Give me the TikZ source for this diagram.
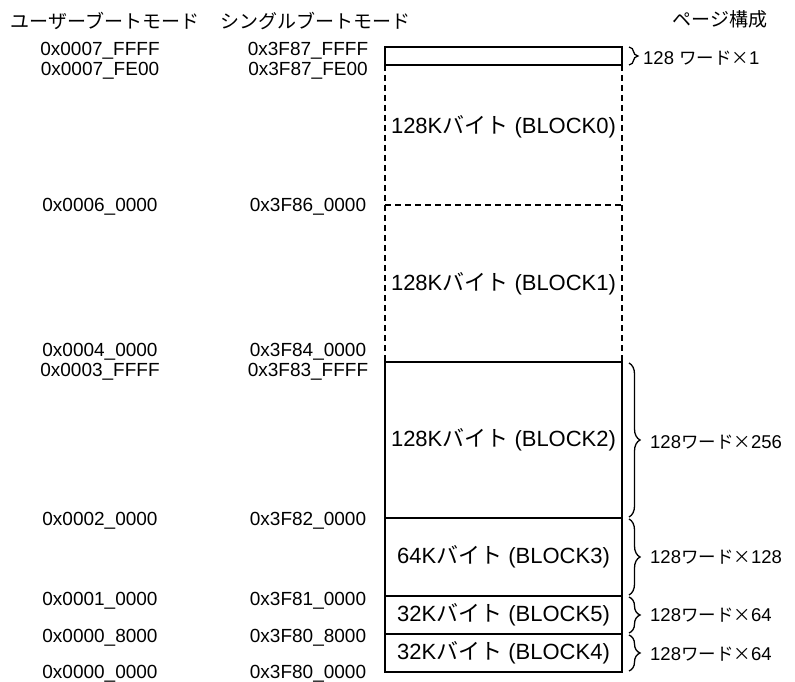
\documentclass[tikz,border=0pt]{standalone}
\usepackage{fontspec}
\setmainfont{Liberation Sans}
\newfontfamily\jp{Noto Sans CJK JP}
\usetikzlibrary{positioning, decorations.pathreplacing}
\newcommand\addrfont{\fontsize{19}{22}\selectfont}
\newcommand\blkfont{\fontsize{22}{25}\selectfont}
\newcommand\wordfont{\fontsize{18.5}{21}\selectfont}
\newcommand\wordjp[1]{{\jp\fontsize{17.5}{19}\selectfont #1}}
\tikzset{
  memblk/.style = {rectangle, draw, line width=1.5pt, minimum width=237pt,
                   inner sep=0pt, outer sep=0pt, font=\blkfont},
  memgap/.style = {rectangle, minimum width=237pt, inner sep=0pt,
                   outer sep=0pt, font=\blkfont},
  memdash/.style = {line width=1.5pt, dash pattern=on 6pt off 4pt},
  blklabel/.style = {font=\blkfont, inner sep=0pt},
  headlabel/.style = {font=\jp\addrfont, inner sep=0pt},
  addrlabel/.style = {font=\addrfont, inner sep=0pt, text height=13.6pt, text depth=0pt},
  pagebrace/.style = {decorate, decoration={brace, amplitude=11pt}, line width=1.3pt},
  pagelabel/.style = {font=\wordfont, anchor=west, inner sep=0pt, text height=13.3pt, text depth=0pt}
}

\begin{document}
\begin{tikzpicture}[x=1pt, y=-1pt]
\useasboundingbox (0,0) rectangle (795,682);
% column headings
\node[headlabel] (hub) at (105,21) {ユーザーブートモード};
\node[headlabel] (hsb) at (315,21) {シングルブートモード};
\node[headlabel] (hpg) at (720,19) {ページ構成};

% memory blocks
\node[memblk, minimum height=18pt] (tp) at (503.5,56) {};
\node[memgap, minimum height=140pt, below=0pt of tp] (b0) {};
\node[blklabel] (l0) at ([yshift=8pt]b0.center) {128K{\jp バイト} (BLOCK0)};
\node[memgap, minimum height=157pt, below=0pt of b0] (b1) {128K{\jp バイト} (BLOCK1)};
\node[memblk, minimum height=156pt, below=0pt of b1] (b2) {128K{\jp バイト} (BLOCK2)};
\node[memblk, minimum height=78pt, below=0pt of b2] (b3) {64K{\jp バイト} (BLOCK3)};
\node[memblk, minimum height=38pt, below=0pt of b3] (b5) {32K{\jp バイト} (BLOCK5)};
\node[memblk, minimum height=38pt, below=0pt of b5] (b4) {32K{\jp バイト} (BLOCK4)};
\draw[memdash] (b0.north west) -- (b1.south west);
\draw[memdash] (b0.north east) -- (b1.south east);
\draw[memdash] (b1.north west) -- (b1.north east);

% user boot addresses
\node[addrlabel] (u1) at (100,49) {0x0007\_FFFF};
\node[addrlabel] (u2) at (100,69) {0x0007\_FE00};
\node[addrlabel] (u3) at (100,205) {0x0006\_0000};
\node[addrlabel] (u4) at (100,350) {0x0004\_0000};
\node[addrlabel] (u5) at (100,370) {0x0003\_FFFF};
\node[addrlabel] (u6) at (100,519) {0x0002\_0000};
\node[addrlabel] (u7) at (100,599) {0x0001\_0000};
\node[addrlabel] (u8) at (100,636) {0x0000\_8000};
\node[addrlabel] (u9) at (100,672) {0x0000\_0000};
% single boot addresses
\node[addrlabel] (s1) at (308,49) {0x3F87\_FFFF};
\node[addrlabel] (s2) at (308,69) {0x3F87\_FE00};
\node[addrlabel] (s3) at (308,205) {0x3F86\_0000};
\node[addrlabel] (s4) at (308,350) {0x3F84\_0000};
\node[addrlabel] (s5) at (308,370) {0x3F83\_FFFF};
\node[addrlabel] (s6) at (308,519) {0x3F82\_0000};
\node[addrlabel] (s7) at (308,599) {0x3F81\_0000};
\node[addrlabel] (s8) at (308,636) {0x3F80\_8000};
\node[addrlabel] (s9) at (308,672) {0x3F80\_0000};

% page braces
\draw[pagebrace, decoration={amplitude=9pt}] ([xshift=7pt]tp.north east) -- ([xshift=7pt]tp.south east);
\draw[pagebrace] ([xshift=7pt,yshift=-1pt]b2.north east) -- ([xshift=7pt,yshift=1pt]b2.south east);
\draw[pagebrace] ([xshift=7pt,yshift=-1pt]b3.north east) -- ([xshift=7pt,yshift=1pt]b3.south east);
\draw[pagebrace] ([xshift=7pt,yshift=-1pt]b5.north east) -- ([xshift=7pt,yshift=1pt]b5.south east);
\draw[pagebrace] ([xshift=7pt,yshift=-1pt]b4.north east) -- ([xshift=7pt,yshift=1pt]b4.south east);
\node[pagelabel] (ptp) at (643,58) {128 \wordjp{ワード×}1};
\node[pagelabel] (pb2) at (650,442) {128\wordjp{ワード×}256};
\node[pagelabel] (pb3) at (650,557) {128\wordjp{ワード×}128};
\node[pagelabel] (pb5) at (650,615) {128\wordjp{ワード×}64};
\node[pagelabel] (pb4) at (650,654) {128\wordjp{ワード×}64};
\end{tikzpicture}
\end{document}
